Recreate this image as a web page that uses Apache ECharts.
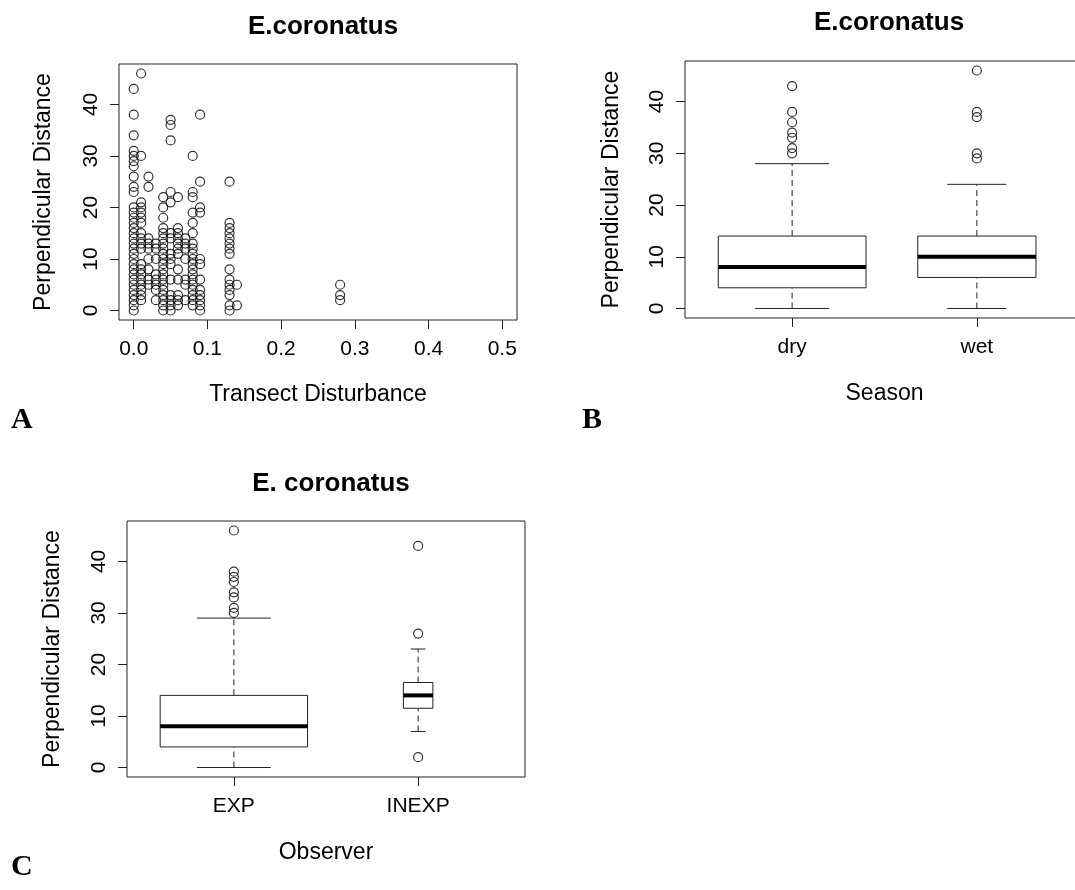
<!DOCTYPE html>
<html>
<head>
<meta charset="utf-8">
<script src="https://cdn.jsdelivr.net/npm/echarts@6/dist/echarts.min.js"></script>
<style>
html,body{margin:0;padding:0;background:#fff;overflow:hidden;}
/* canvas a bit wider than the window: panel B's frame runs past the right edge, as in the source */
#main{width:1100px;height:890px;}
</style>
</head>
<body>
<div id="main"></div>
<script>
// panel A: perpendicular distance at each transect disturbance level
var disturbance = [0, 0.01, 0.02, 0.03, 0.04, 0.05, 0.06, 0.07, 0.08, 0.09, 0.13, 0.14, 0.28];
var distanceAtDisturbance = [
	[43,38,34,31,30,29,28,26,24,23,20,19,18,17,16,15,14,13,12,11,10,9,8,7,6,5,4,3,2,1,0],
	[46,30,21,20,19,18,17,15,14,13,12,9,8,7,6,5,4,3,2],
	[26,24,14,13,12,10,8,6,5],
	[13,12,10,7,6,5,4,2],
	[22,20,18,16,15,14,13,12,11,10,9,8,7,6,5,4,3,2,1,0],
	[37,36,33,23,21,15,14,11,10,9,6,3,2,1,0],
	[22,16,15,14,13,12,11,8,6,3,2,1],
	[14,13,12,10,6,5,2],
	[30,23,22,19,17,15,13,12,11,10,9,8,7,6,5,4,3,2,1],
	[38,25,20,19,10,9,6,4,3,2,1,0],
	[25,17,16,15,14,13,12,11,8,6,5,4,3,1,0],
	[5,1],
	[5,3,2]
];
var disturbanceTicks = [0, 0.1, 0.2, 0.3, 0.4, 0.5];
var distanceTicks = [0, 10, 20, 30, 40];

// panel B: season  [min, Q1, median, Q3, max]
var seasonNames = ['dry', 'wet'];
var seasonStats = [[0, 4, 8, 14, 28], [0, 6, 10, 14, 24]];
var seasonOutliers = [[43, 38, 36, 34, 33, 31, 30], [46, 38, 37, 30, 29]];

// panel C: observer
var observerNames = ['EXP', 'INEXP'];
var observerStats = [[0, 4, 8, 14, 29], [7, 11.5, 14, 16.5, 23]];
var observerOutliers = [[46, 38, 37, 36, 34, 33, 31, 30], [43, 26, 2]];

var chart = echarts.init(document.getElementById('main'));
var font = 'Liberation Sans, Arial, sans-serif';
var ink = '#222';

var scatterPoints = [];
for (var i = 0; i < disturbance.length; i++) {
	for (var j = 0; j < distanceAtDisturbance[i].length; j++) {
		scatterPoints.push([disturbance[i], distanceAtDisturbance[i][j]]);
	}
}

function boxData(stats) {
	return stats.map(function (s, i) { return [i + 1].concat(s); });
}
function outlierData(list) {
	var out = [];
	list.forEach(function (vals, i) {
		vals.forEach(function (v) { out.push([i + 1, v]); });
	});
	return out;
}

// R style box: dashed whiskers, staples, white box, thick median
function boxRenderer(widths) {
	return function (params, api) {
		var x = api.value(0), lo = api.value(1), q1 = api.value(2),
			md = api.value(3), q3 = api.value(4), hi = api.value(5);
		var hw = widths[params.dataIndex] / 2;
		var c = function (a, b) { return api.coord([a, b]); };
		var solid = { stroke: ink, lineWidth: 1, fill: null };
		var dashed = { stroke: ink, lineWidth: 1, lineDash: [6, 4], fill: null };
		var tl = c(x - hw, q3), br = c(x + hw, q1);
		function line(p1, p2, style) {
			return { type: 'line', shape: { x1: p1[0], y1: p1[1], x2: p2[0], y2: p2[1] }, style: style };
		}
		return {
			type: 'group',
			children: [
				line(c(x, q3), c(x, hi), dashed),
				line(c(x, lo), c(x, q1), dashed),
				line(c(x - hw / 2, hi), c(x + hw / 2, hi), solid),
				line(c(x - hw / 2, lo), c(x + hw / 2, lo), solid),
				{ type: 'rect', shape: { x: tl[0], y: tl[1], width: br[0] - tl[0], height: br[1] - tl[1] },
					style: { fill: '#fff', stroke: ink, lineWidth: 1 } },
				line(c(x - hw, md), c(x + hw, md), { stroke: '#000', lineWidth: 4 })
			]
		};
	};
}

function yAxis(grid, gap) {
	return {
		gridIndex: grid, type: 'value', min: -1.84, max: 47.84,
		axisLine: { show: false, onZero: false },
		axisTick: { show: true, customValues: distanceTicks, length: 9, lineStyle: { color: ink } },
		axisLabel: { customValues: distanceTicks, rotate: 90, margin: 17, color: '#000', fontSize: 21, fontFamily: font },
		splitLine: { show: false },
		name: 'Perpendicular Distance', nameLocation: 'middle', nameGap: gap,
		nameTextStyle: { color: '#000', fontSize: 23, fontFamily: font }
	};
}
function catAxis(grid, names, title) {
	return {
		gridIndex: grid, type: 'value', min: 0.42, max: 2.58,
		axisLine: { show: false, onZero: false },
		axisTick: { show: true, customValues: [1, 2], length: 9, lineStyle: { color: ink } },
		axisLabel: { customValues: [1, 2], margin: 19, color: '#000', fontSize: 21, fontFamily: font,
			formatter: function (v) { return names[Math.round(v) - 1]; } },
		splitLine: { show: false },
		name: title, nameLocation: 'middle', nameGap: 64,
		nameTextStyle: { color: '#000', fontSize: 23, fontFamily: font }
	};
}

var titleStyle = { color: '#000', fontSize: 26, fontWeight: 'bold', fontFamily: font };
var letterStyle = { color: '#000', fontSize: 30, fontWeight: 'bold', fontFamily: 'Liberation Serif, Times New Roman, serif' };

var option = {
	animation: false,
	backgroundColor: '#fff',
	title: [
		{ text: 'E.coronatus', left: 318, top: 9, textAlign: 'center', textStyle: titleStyle },
		{ text: 'E.coronatus', left: 884, top: 5, textAlign: 'center', textStyle: titleStyle },
		{ text: 'E. coronatus', left: 326, top: 466, textAlign: 'center', textStyle: titleStyle },
		{ text: 'A', left: 6, top: 400, textStyle: letterStyle },
		{ text: 'B', left: 577, top: 400, textStyle: letterStyle },
		{ text: 'C', left: 6, top: 847, textStyle: letterStyle }
	],
	grid: [
		{ left: 119, top: 64, width: 398, height: 256, show: true, borderColor: ink, borderWidth: 1, backgroundColor: 'transparent' },
		{ left: 685, top: 61, width: 399, height: 257, show: true, borderColor: ink, borderWidth: 1, backgroundColor: 'transparent' },
		{ left: 127, top: 521, width: 398, height: 256, show: true, borderColor: ink, borderWidth: 1, backgroundColor: 'transparent' }
	],
	xAxis: [
		{
			gridIndex: 0, type: 'value', min: -0.02, max: 0.52,
			axisLine: { show: false, onZero: false },
			axisTick: { show: true, customValues: disturbanceTicks, length: 9, lineStyle: { color: ink } },
			axisLabel: { customValues: disturbanceTicks, margin: 19, color: '#000', fontSize: 21, fontFamily: font,
				formatter: function (v) { return v.toFixed(1); } },
			splitLine: { show: false },
			name: 'Transect Disturbance', nameLocation: 'middle', nameGap: 63,
			nameTextStyle: { color: '#000', fontSize: 23, fontFamily: font }
		},
		catAxis(1, seasonNames, 'Season'),
		catAxis(2, observerNames, 'Observer')
	],
	yAxis: [yAxis(0, 64), yAxis(1, 62), yAxis(2, 63)],
	series: [
		{
			type: 'scatter', xAxisIndex: 0, yAxisIndex: 0, data: scatterPoints,
			symbol: 'circle', symbolSize: 9,
			itemStyle: { color: 'transparent', borderColor: '#000', borderWidth: 1.2 }
		},
		{
			type: 'custom', xAxisIndex: 1, yAxisIndex: 1, data: boxData(seasonStats),
			renderItem: boxRenderer([0.8, 0.64]), encode: { x: 0, y: [1, 2, 3, 4, 5] }
		},
		{
			type: 'scatter', xAxisIndex: 1, yAxisIndex: 1, data: outlierData(seasonOutliers),
			symbol: 'circle', symbolSize: 9,
			itemStyle: { color: 'transparent', borderColor: '#000', borderWidth: 1.2 }
		},
		{
			type: 'custom', xAxisIndex: 2, yAxisIndex: 2, data: boxData(observerStats),
			renderItem: boxRenderer([0.8, 0.16]), encode: { x: 0, y: [1, 2, 3, 4, 5] }
		},
		{
			type: 'scatter', xAxisIndex: 2, yAxisIndex: 2, data: outlierData(observerOutliers),
			symbol: 'circle', symbolSize: 9,
			itemStyle: { color: 'transparent', borderColor: '#000', borderWidth: 1.2 }
		}
	]
};
chart.setOption(option);
</script>
</body>
</html>
